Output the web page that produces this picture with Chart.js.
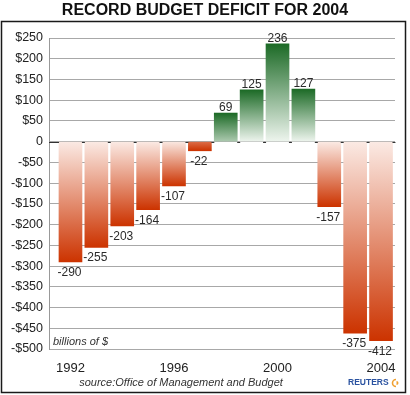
<!DOCTYPE html>
<html>
<head>
<meta charset="utf-8">
<script src="https://cdn.jsdelivr.net/npm/chart.js@4"></script>
<style>
html,body{margin:0;padding:0;background:#fff;}
#wrap{width:410px;height:395px;position:relative;}
</style>
</head>
<body>
<div id="wrap"><canvas id="c" width="410" height="395"></canvas></div>
<script>
const years = [1992,1993,1994,1995,1996,1997,1998,1999,2000,2001,2002,2003,2004];
const barValues = [-290,-255,-203,-164,-107,-22,69,125,236,127,-157,-462,-480];
const valueLabels = ['-290','-255','-203','-164','-107','-22','69','125','236','127','-157','-375','-412'];
const xTickYears = [1992,1996,2000,2004];
const yMin = -500, yMax = 250, yStep = 50;
const titleText = 'RECORD BUDGET DEFICIT FOR 2004';
const unitText = 'billions of $';
const sourceText = 'source:Office of Management and Budget';
const brandText = 'REUTERS';

const FONT = '"Liberation Sans", Arial, sans-serif';

function mix(a, b, t) {
  const pa = a.match(/\w\w/g).map(h => parseInt(h, 16));
  const pb = b.match(/\w\w/g).map(h => parseInt(h, 16));
  return 'rgb(' + pa.map((v, i) => Math.round(v + (pb[i] - v) * t)).join(',') + ')';
}

function barColor(ctx) {
  const chart = ctx.chart;
  const area = chart.chartArea;
  const v = ctx.raw ? ctx.raw.y : 0;
  const neg = v < 0;
  const light = neg ? 'fbeae4' : 'eef5ee';
  const dark = neg ? 'cc3300' : '1c6a26';
  if (!area) return '#' + dark;
  const ys = chart.scales.y;
  const y0 = ys.getPixelForValue(0);
  const y1 = ys.getPixelForValue(v);
  const len = Math.abs(y1 - y0);
  const startT = Math.max(0, 1 - len / 45) * 0.85;
  const g = chart.ctx.createLinearGradient(0, y0, 0, y1);
  g.addColorStop(0, mix(light, dark, startT));
  g.addColorStop(1, '#' + dark);
  return g;
}

const decor = {
  id: 'decor',
  beforeDraw(chart) {
    const c = chart.ctx;
    c.save();
    c.fillStyle = '#fff';
    c.fillRect(0, 0, chart.width, chart.height);
    c.restore();
  },
  afterDatasetsDraw(chart) {
    const c = chart.ctx;
    const xs = chart.scales.x, ys = chart.scales.y;
    const area = chart.chartArea;
    c.save();
    const y0 = Math.round(ys.getPixelForValue(0)) + 0.5;
    c.strokeStyle = '#333';
    c.lineWidth = 1;
    c.beginPath();
    c.moveTo(area.left, y0);
    c.lineTo(xs.getPixelForValue(years[0] - 0.5), y0);
    c.stroke();
    for (let i = 0; i <= years.length; i++) {
      const bx = xs.getPixelForValue(years[0] - 0.5 + i);
      c.beginPath();
      c.moveTo(bx - 1.5, y0);
      c.lineTo(bx + 1.5, y0);
      c.stroke();
    }
    c.fillStyle = '#2a2a2a';
    c.font = '12px ' + FONT;
    c.textAlign = 'center';
    c.textBaseline = 'alphabetic';
    const meta = chart.getDatasetMeta(0);
    meta.data.forEach((bar, i) => {
      const v = barValues[i];
      if (v >= 0) c.fillText(valueLabels[i], bar.x, bar.y - 2);
      else c.fillText(valueLabels[i], bar.x - 1, bar.y + 14);
    });
    c.font = 'italic 11px ' + FONT;
    c.textAlign = 'left';
    c.textBaseline = 'middle';
    c.fillStyle = '#333';
    c.fillText(unitText, area.left + 4, area.bottom - 7);
    c.restore();
  },
  afterDraw(chart) {
    const c = chart.ctx;
    c.save();
    c.strokeStyle = '#1a1a1a';
    c.lineWidth = 1.5;
    c.strokeRect(1.5, 21.5, 404, 371);
    c.fillStyle = '#111';
    c.font = 'bold 16px ' + FONT;
    c.textAlign = 'center';
    c.textBaseline = 'middle';
    c.fillText(titleText, 205, 11);
    c.font = 'italic 11px ' + FONT;
    c.fillStyle = '#333';
    c.fillText(sourceText, 181, 383);
    c.font = 'bold 8.5px ' + FONT;
    c.fillStyle = '#2a52a0';
    c.textAlign = 'left';
    c.fillText(brandText, 348, 383);
    c.strokeStyle = '#f0a030';
    c.lineWidth = 1.6;
    c.beginPath();
    c.arc(396, 383, 3.5, Math.PI * 0.5, Math.PI * 1.5);
    c.stroke();
    c.fillStyle = '#f0a030';
    c.beginPath();
    c.arc(396.5, 383, 2, -Math.PI * 0.5, Math.PI * 0.5);
    c.fill();
    c.restore();
  }
};

new Chart(document.getElementById('c'), {
  type: 'bar',
  data: {
    datasets: [{
      data: years.map((yr, i) => ({ x: yr, y: barValues[i] })),
      backgroundColor: barColor,
      borderWidth: 0,
      barThickness: 23
    }]
  },
  options: {
    responsive: false,
    animation: false,
    events: [],
    layout: { padding: { left: 0, right: 15, top: 38, bottom: 16 } },
    plugins: { legend: { display: false }, tooltip: { enabled: false }, title: { display: false } },
    scales: {
      x: {
        type: 'linear',
        min: years[0] - 0.83,
        max: years[years.length - 1] + 0.54,
        offset: false,
        grid: { display: false, drawTicks: false },
        border: { display: false },
        afterBuildTicks: s => { s.ticks = xTickYears.map(v => ({ value: v })); },
        afterFit: s => { s.height = 30; },
        ticks: {
          padding: 12,
          color: '#222',
          font: { family: FONT, size: 13 },
          callback: v => String(v)
        }
      },
      y: {
        min: yMin,
        max: yMax,
        afterFit: s => { s.width = 49; },
        grid: { color: '#a8a8a8', lineWidth: 1, drawTicks: false },
        border: { display: true, color: '#999', width: 1 },
        ticks: {
          stepSize: yStep,
          padding: 6,
          color: '#222',
          font: { family: FONT, size: 12.5 },
          callback: v => v === 0 ? '0' : (v < 0 ? '-$' : '$') + Math.abs(v)
        }
      }
    }
  },
  plugins: [decor]
});
</script>
</body>
</html>
